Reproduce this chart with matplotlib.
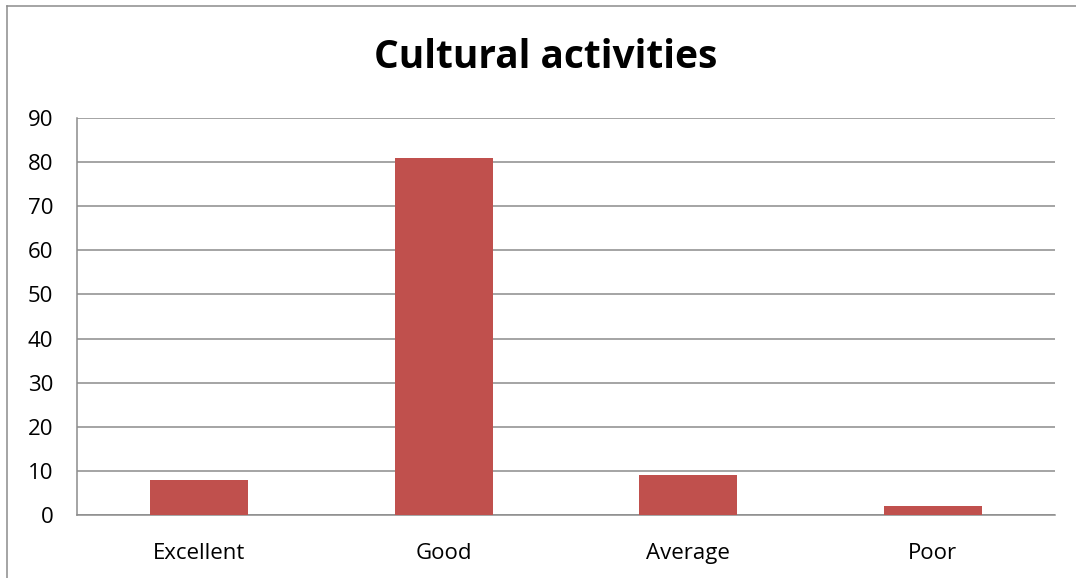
import matplotlib.pyplot as plt
from matplotlib.lines import Line2D

# Datos de la grafica
categorias = ["Excellent", "Good", "Average", "Poor"]
valores = [8, 81, 9, 2]
ticks_y = [0, 10, 20, 30, 40, 50, 60, 70, 80, 90]

plt.rcParams['font.family'] = ['Open Sans', 'DejaVu Sans']

fig = plt.figure(figsize=(10.76, 5.78), dpi=100)
ax = fig.add_axes([77/1076, 1 - 515/578, (1055-77)/1076, (515-118)/578])

x = range(len(categorias))
ax.bar(x, valores, width=0.4, color="#C0504D", zorder=3)

ax.set_xlim(-0.5, len(categorias) - 0.5)
ax.set_ylim(0, 90)
ax.set_yticks(ticks_y)
ax.set_xticks(list(x))
ax.set_xticklabels(categorias)
ax.tick_params(axis='both', length=0, labelsize=16)
ax.tick_params(axis='y', pad=17)
ax.tick_params(axis='x', pad=20)

ax.grid(axis='y', color="#8c8c8c", linewidth=1.1, zorder=0)
for s in ["top", "right"]:
    ax.spines[s].set_visible(False)
for s in ["left", "bottom"]:
    ax.spines[s].set_color("#8c8c8c")
    ax.spines[s].set_linewidth(1.1)

fig.text(546/1076, 1 - 57/578, "Cultural activities", ha="center", va="center",
         fontsize=28, fontweight="bold")

# Borde exterior (arriba e izquierda)
fig.lines.append(Line2D([7/1076, 1], [1 - 6/578, 1 - 6/578], transform=fig.transFigure,
                        color="#8c8c8c", linewidth=1.1))
fig.lines.append(Line2D([7/1076, 7/1076], [0, 1 - 6/578], transform=fig.transFigure,
                        color="#8c8c8c", linewidth=1.1))

fig.savefig("out.png", dpi=100)
